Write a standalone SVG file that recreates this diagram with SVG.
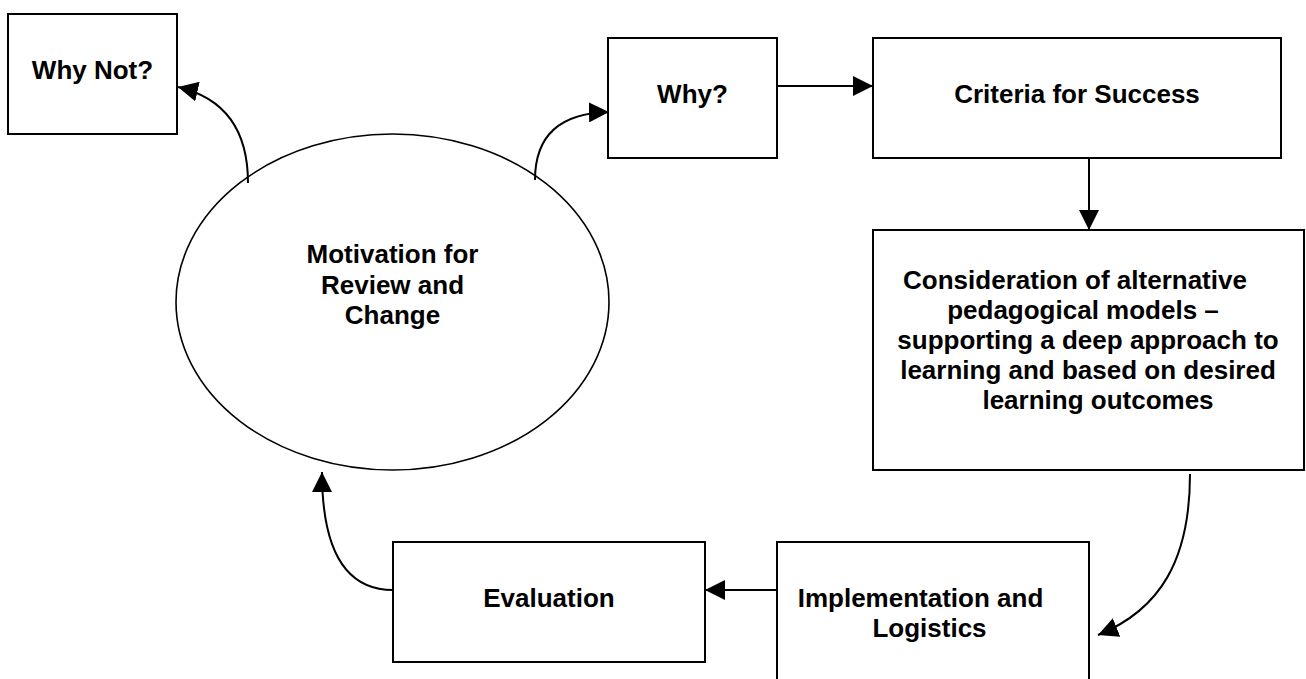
<svg xmlns="http://www.w3.org/2000/svg" width="1306" height="679" viewBox="0 0 1306 679">
<style>
.box{fill:#fff;stroke:#000;stroke-width:2}
.ell{fill:#fff;stroke:#000;stroke-width:1.6}
.lbl{font-family:"Liberation Sans",Arial,sans-serif;font-weight:bold;font-size:26px;fill:#000;text-anchor:middle}
.con{fill:none;stroke:#000;stroke-width:2;marker-end:url(#ah)}
</style>
<defs>
<marker id="ah" markerUnits="userSpaceOnUse" markerWidth="20" markerHeight="20" refX="20" refY="10" orient="auto">
<path d="M0,0 L20,10 L0,20 z" fill="#000"/>
</marker>
</defs>
<rect width="1306" height="679" fill="#fff"/>
<g id="whynot"><rect class="box" x="8" y="14" width="169" height="120"/><text class="lbl" x="92.5" y="79">Why Not?</text></g>
<g id="why"><rect class="box" x="608" y="38" width="169" height="120"/><text class="lbl" x="692.5" y="103">Why?</text></g>
<g id="criteria"><rect class="box" x="873" y="38" width="408" height="120"/><text class="lbl" x="1077" y="103">Criteria for Success</text></g>
<g id="consideration"><rect class="box" x="873" y="230" width="431" height="240"/>
<text class="lbl"><tspan x="1075" y="289">Consideration of alternative</tspan><tspan x="1083" y="319">pedagogical models –</tspan><tspan x="1088" y="349">supporting a deep approach to</tspan><tspan x="1088" y="379">learning and based on desired</tspan><tspan x="1098" y="409">learning outcomes</tspan></text></g>
<g id="implementation"><rect class="box" x="777" y="542" width="312" height="160"/>
<text class="lbl"><tspan x="920.5" y="607">Implementation and</tspan><tspan x="929.5" y="637">Logistics</tspan></text></g>
<g id="evaluation"><rect class="box" x="393" y="542" width="312" height="120"/><text class="lbl" x="549" y="607">Evaluation</text></g>
<g id="motivation"><ellipse class="ell" cx="392.5" cy="302" rx="216.5" ry="168"/>
<text class="lbl"><tspan x="392.5" y="263">Motivation for</tspan><tspan x="392.5" y="294">Review and</tspan><tspan x="392.5" y="324">Change</tspan></text></g>
<g id="connectors">
<path class="con" d="M248,183 C248,130 225,98 178,87"/>
<path class="con" d="M535,180 C535,135 560,113 609,112"/>
<path class="con" d="M777,86 L873,86"/>
<path class="con" d="M1089,158 L1089,230"/>
<path class="con" d="M1190,474 C1190,560 1160,610 1098,635"/>
<path class="con" d="M777,590 L705,590"/>
<path class="con" d="M393,590 C340,590 322,540 322,472"/>
</g>
</svg>
